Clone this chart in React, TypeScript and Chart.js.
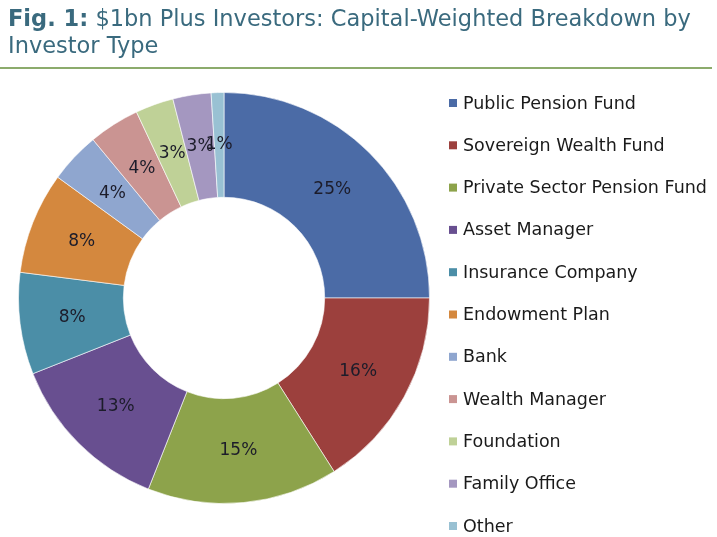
import React, { useEffect, useRef } from "react";
import { Chart, registerables } from "chart.js";

Chart.register(...registerables);

const categories = [
  "Public Pension Fund",
  "Sovereign Wealth Fund",
  "Private Sector Pension Fund",
  "Asset Manager",
  "Insurance Company",
  "Endowment Plan",
  "Bank",
  "Wealth Manager",
  "Foundation",
  "Family Office",
  "Other",
];

const shares = [25, 16, 15, 13, 8, 8, 4, 4, 3, 3, 1];

const sliceColors = [
  "#4b6ba6",
  "#9c403d",
  "#8da34b",
  "#684f90",
  "#4b8ea7",
  "#d4883e",
  "#8fa6cf",
  "#ca9492",
  "#bfd197",
  "#a497c0",
  "#99c1d3",
];

const FONT = '"DejaVu Sans", sans-serif';

const sliceLabelPlugin = {
  id: "sliceLabels",
  afterDatasetsDraw(chart: any) {
    const ctx = chart.ctx;
    const meta = chart.getDatasetMeta(0);
    ctx.save();
    ctx.font = `17px ${FONT}`;
    ctx.fillStyle = "#1c1c2a";
    ctx.textAlign = "center";
    ctx.textBaseline = "middle";
    meta.data.forEach((arc: any, i: number) => {
      const p = arc.tooltipPosition(false);
      ctx.fillText(`${shares[i]}%`, p.x, p.y);
    });
    ctx.restore();
  },
};

const sideLegendPlugin = {
  id: "sideLegend",
  afterDraw(chart: any) {
    const ctx = chart.ctx;
    const labels: string[] = chart.data.labels;
    const bg: string[] = chart.data.datasets[0].backgroundColor;
    const area = chart.chartArea;
    const x0 = area.right + 19;
    const y0 = area.top + 11;
    const step = 42.3;
    ctx.save();
    ctx.font = `17.5px ${FONT}`;
    ctx.textAlign = "left";
    ctx.textBaseline = "middle";
    labels.forEach((label, i) => {
      const y = y0 + i * step;
      ctx.fillStyle = bg[i];
      ctx.fillRect(x0, y - 4, 8, 8);
      ctx.fillStyle = "#1a1a1a";
      ctx.fillText(label, x0 + 14, y + 1);
    });
    ctx.restore();
  },
};

export default function App() {
  const canvasRef = useRef<HTMLCanvasElement | null>(null);

  useEffect(() => {
    if (!canvasRef.current) return;
    const chart = new Chart(canvasRef.current, {
      type: "doughnut",
      data: {
        labels: categories,
        datasets: [
          {
            data: shares,
            backgroundColor: sliceColors,
            borderColor: "rgba(255,255,255,0.6)",
            borderWidth: 1,
          },
        ],
      },
      options: {
        responsive: false,
        animation: false,
        cutout: "49%",
        layout: { padding: { left: 18, right: 287, top: 92, bottom: 33 } },
        plugins: {
          legend: { display: false },
          tooltip: { enabled: false },
          title: { display: false },
        },
      },
      plugins: [sliceLabelPlugin, sideLegendPlugin],
    });
    return () => chart.destroy();
  }, []);

  return (
    <div
      style={{
        position: "absolute",
        left: 0,
        top: 0,
        width: 717,
        height: 537,
        background: "#ffffff",
        overflow: "hidden",
      }}
    >
      <canvas
        ref={canvasRef}
        width={717}
        height={537}
        style={{ position: "absolute", left: 0, top: 0, width: 717, height: 537 }}
      />
      <div
        style={{
          position: "absolute",
          left: 8,
          top: 5,
          width: 709,
          fontFamily: FONT,
          fontSize: 22.5,
          lineHeight: "27px",
          color: "#3a6a7e",
          whiteSpace: "nowrap",
        }}
      >
        <span style={{ fontWeight: "bold" }}>Fig. 1:</span> $1bn Plus Investors: Capital-Weighted Breakdown by
        <br />
        Investor Type
      </div>
      <div
        style={{
          position: "absolute",
          left: 0,
          top: 67,
          width: 712,
          height: 2,
          background: "#8cab6c",
        }}
      />
    </div>
  );
}
